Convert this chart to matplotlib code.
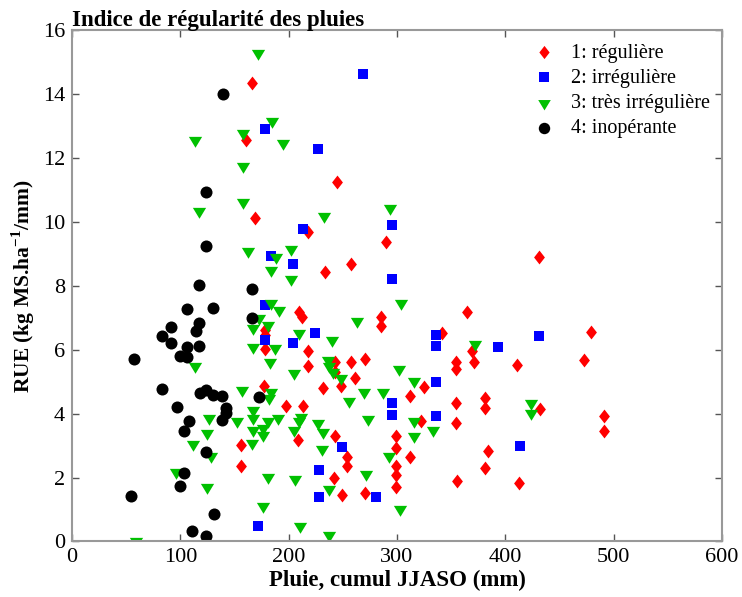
import numpy as np
import matplotlib
matplotlib.use("Agg")
import matplotlib.pyplot as plt

plt.rcParams["font.family"] = ["Liberation Serif", "DejaVu Serif"]
plt.rcParams["mathtext.fontset"] = "custom"
plt.rcParams["mathtext.rm"] = "Liberation Serif"
plt.rcParams["mathtext.bf"] = "Liberation Serif:bold"

# 1: reguliere
x_reg = [166.3, 160.8, 244.2, 169.3, 217.5, 290.3, 431.5, 257.5, 233.8, 209.8, 212.3, 364.3,
         285.6, 285.6, 178.3, 178.3, 178.3, 479.0, 341.2, 217.5, 368.9, 217.5, 243.0, 257.5,
         270.4, 243.0, 261.4, 354.1, 354.1, 371.2, 410.9, 472.9, 325.0, 177.6, 232.0, 248.2,
         311.8, 354.1, 381.1, 381.1, 431.8, 197.6, 212.9, 321.9, 354.1, 490.7, 490.7, 243.0,
         208.9, 156.2, 298.9, 298.9, 384.2, 311.8, 254.3, 254.3, 156.2, 298.9, 298.9, 298.9,
         381.1, 242.1, 355.6, 413.1, 249.2, 270.4]
y_reg = [14.37, 12.57, 11.25, 10.14, 9.70, 9.37, 8.90, 8.69, 8.45, 7.17, 7.04, 7.17,
         7.04, 6.75, 6.63, 6.45, 6.02, 6.57, 6.54, 5.95, 5.97, 5.50, 5.63, 5.63,
         5.71, 5.32, 5.11, 5.62, 5.40, 5.62, 5.51, 5.69, 4.85, 4.87, 4.80, 4.87,
         4.54, 4.35, 4.49, 4.17, 4.14, 4.23, 4.23, 3.76, 3.71, 3.93, 3.47, 3.31,
         3.18, 3.03, 3.31, 2.92, 2.84, 2.64, 2.64, 2.37, 2.37, 2.37, 2.09, 1.72,
         2.30, 1.98, 1.88, 1.83, 1.46, 1.51]

# 2: irreguliere
x_irr = [268.8, 177.9, 227.3, 295.2, 212.9, 183.8, 204.3, 295.8, 177.9, 224.6, 335.7, 335.7,
         431.5, 393.4, 178.3, 204.3, 335.7, 295.8, 295.8, 335.7, 413.4, 249.7, 228.3, 228.3,
         280.5, 171.5]
y_irr = [14.63, 12.93, 12.29, 9.91, 9.78, 8.94, 8.69, 8.21, 7.40, 6.54, 6.45, 6.13,
         6.42, 6.10, 6.32, 6.21, 4.98, 4.33, 3.97, 3.93, 3.00, 2.95, 2.24, 1.39,
         1.39, 0.50]

# 3: tres irreguliere
x_tirr = [171.5, 184.4, 157.7, 113.2, 194.5, 157.7, 157.7, 117.1, 293.4, 232.2, 202.2, 162.9,
          188.4, 184.1, 201.8, 303.5, 183.8, 191.4, 172.4, 263.5, 180.7, 166.9, 209.9, 239.6,
          371.9, 166.9, 187.8, 183.2, 235.9, 113.2, 301.9, 237.5, 240.5, 205.2, 248.3, 315.7,
          157.1, 183.8, 182.2, 269.7, 287.5, 255.3, 424.1, 424.1, 166.9, 166.9, 189.9, 126.3,
          180.7, 152.1, 176.0, 176.0, 166.9, 124.5, 211.4, 209.9, 205.2, 226.7, 231.3, 273.4,
          315.7, 315.7, 333.2, 166.0, 111.6, 230.7, 128.5, 292.7, 96.3, 180.7, 206.2, 271.3,
          124.5, 236.8, 176.0, 302.6, 210.5, 236.8, 59.5]
y_tirr = [15.29, 13.17, 12.78, 12.57, 12.47, 11.77, 10.62, 10.36, 10.43, 10.20, 9.15, 9.08,
          8.92, 8.50, 8.21, 7.48, 7.46, 7.25, 6.99, 6.89, 6.78, 6.68, 6.54, 6.31,
          6.19, 6.10, 6.07, 5.63, 5.67, 5.48, 5.40, 5.48, 5.32, 5.27, 5.11, 5.01,
          4.75, 4.69, 4.49, 4.68, 4.69, 4.40, 4.33, 4.02, 4.12, 3.86, 3.86, 3.86,
          3.76, 3.76, 3.55, 3.34, 3.50, 3.41, 3.91, 3.76, 3.50, 3.71, 3.44, 3.83,
          3.76, 3.29, 3.50, 3.08, 3.06, 2.89, 2.68, 2.68, 2.17, 2.03, 1.95, 2.12,
          1.70, 1.64, 1.12, 1.01, 0.47, 0.19, 0.02]

# 4: inoperante
x_ino = [139.2, 123.9, 123.9, 117.1, 165.9, 106.1, 130.0, 165.9, 117.1, 114.1, 91.1, 83.1,
         91.1, 106.1, 117.1, 100.0, 106.4, 57.0, 83.4, 117.8, 123.9, 130.0, 138.7, 172.4,
         97.2, 142.4, 142.4, 138.3, 107.9, 103.3, 123.9, 103.5, 99.7, 54.9, 130.7, 110.7,
         123.9]
y_ino = [14.01, 10.95, 9.25, 8.04, 7.92, 7.28, 7.31, 7.00, 6.85, 6.60, 6.71, 6.42,
         6.21, 6.10, 6.13, 5.81, 5.77, 5.71, 4.77, 4.64, 4.75, 4.59, 4.56, 4.52,
         4.21, 4.17, 4.02, 3.81, 3.76, 3.46, 2.79, 2.14, 1.75, 1.43, 0.87, 0.34,
         0.16]

labels = ["1: régulière", "2: irrégulière", "3: très irrégulière", "4: inopérante"]

# marker shapes close to the MATLAB ones
diamond = [(0, 1), (0.78, 0), (0, -1), (-0.78, 0), (0, 1)]
tri_down = [(-1, 0.55), (1, 0.55), (0, -1.1), (-1, 0.55)]

fig = plt.figure(figsize=(7.42, 5.97), dpi=100)
ax = fig.add_axes([0.097, 0.093, 0.876, 0.856])

ax.scatter(x_reg, y_reg, marker=diamond, s=100, c="#ff0000", linewidths=0, label=labels[0])
ax.scatter(x_irr, y_irr, marker="s", s=52, c="#0000ff", linewidths=0, label=labels[1])
ax.scatter(x_tirr, y_tirr, marker=tri_down, s=110, c="#00c000", linewidths=0, label=labels[2])
ax.scatter(x_ino, y_ino, marker="o", s=75, c="#000000", linewidths=0, label=labels[3])

ax.set_xlim(0, 600)
ax.set_ylim(0, 16)
ax.set_xticks(np.arange(0, 601, 100))
ax.set_yticks(np.arange(0, 17, 2))

for sp in ax.spines.values():
    sp.set_color("#999999")
    sp.set_linewidth(1.5)
ax.tick_params(direction="in", length=5, width=1, color="#555555",
               top=True, right=True, labelsize=16, pad=5)

ax.set_xlabel("Pluie, cumul JJASO (mm)", fontsize=16.5, fontweight="bold", labelpad=2)
ax.set_ylabel("RUE (kg MS.ha$^{\\mathbf{-1}}$/mm)", fontsize=15.5, fontweight="bold", labelpad=4)
ax.set_title("Indice de régularité des pluies", loc="left", fontsize=16.5, fontweight="bold", pad=3)

leg = ax.legend(loc="upper left", bbox_to_anchor=(0.688, 1.0), frameon=False, fontsize=14.5,
                scatterpoints=1, markerscale=0.95, handlelength=1.2, handletextpad=0.7,
                labelspacing=0.3, borderaxespad=0.25)

fig.savefig("out.png", dpi=100)
